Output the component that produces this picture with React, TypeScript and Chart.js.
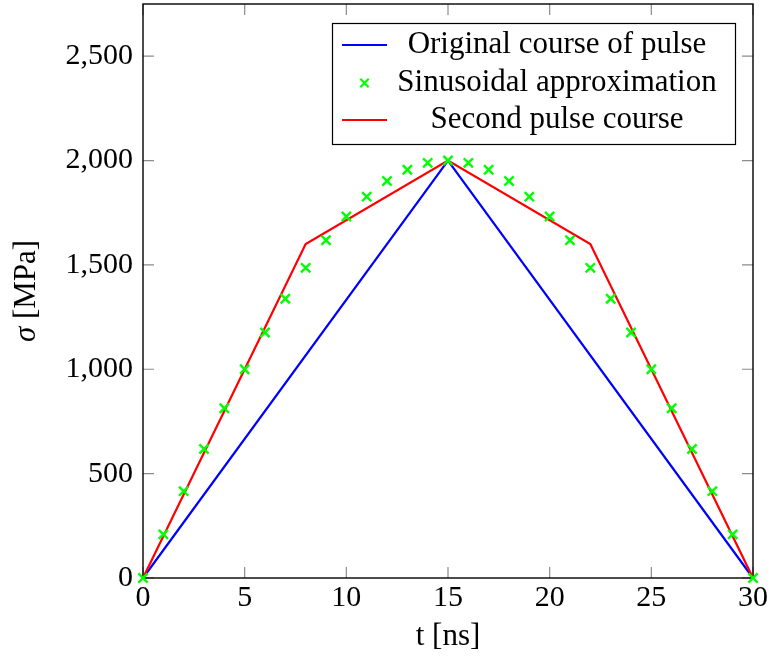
import { useEffect, useRef } from "react";
import { Chart, registerables } from "chart.js";

Chart.register(...registerables);

// Triangular pulse: linear rise to the peak and back down
const originalTime = [0, 15, 30];
const originalStress = [0, 2000, 0];

// Sampled sine-shaped pulse, one sample per nanosecond
const sineTime = [
  0, 1, 2, 3, 4, 5, 6, 7, 8, 9, 10, 11, 12, 13, 14, 15, 16, 17, 18, 19, 20,
  21, 22, 23, 24, 25, 26, 27, 28, 29, 30,
];
const sineStress = [
  0, 209, 416, 618, 813, 1000, 1176, 1338, 1486, 1618, 1732, 1827, 1902, 1956,
  1989, 2000, 1989, 1956, 1902, 1827, 1732, 1618, 1486, 1338, 1176, 1000, 813,
  618, 416, 209, 0,
];

// Piecewise-linear second pulse with knees at 8 ns and 22 ns
const secondTime = [0, 8, 15, 22, 30];
const secondStress = [0, 1600, 2000, 1600, 0];

const xTicks = [0, 5, 10, 15, 20, 25, 30];
const yTicks = [0, 500, 1000, 1500, 2000, 2500];

const seriesLabels = [
  "Original course of pulse",
  "Sinusoidal approximation",
  "Second pulse course",
];
const seriesColors = ["#0000ff", "#00ff00", "#ff0000"];

const xTitle = "t [ns]";
const yTitleSymbol = "σ";
const yTitleUnit = " [MPa]";

const SERIF = "'Liberation Serif', 'Times New Roman', serif";

const toPoints = (xs: number[], ys: number[]) =>
  xs.map((x, i) => ({ x, y: ys[i] }));

const decorPlugin = {
  id: "decor",
  beforeDatasetsDraw(chart: any) {
    const { ctx, chartArea, scales } = chart;
    const { left, right, top, bottom } = chartArea;
    const xs = scales.x;
    const ys = scales.y;
    const tickLen = 11;
    ctx.save();
    ctx.strokeStyle = "#8c8c8c";
    ctx.lineWidth = 1.2;
    ctx.beginPath();
    xs.ticks.forEach((t: any) => {
      const px = xs.getPixelForValue(t.value);
      ctx.moveTo(px, bottom);
      ctx.lineTo(px, bottom - tickLen);
      ctx.moveTo(px, top);
      ctx.lineTo(px, top + tickLen);
    });
    ys.ticks.forEach((t: any) => {
      const py = ys.getPixelForValue(t.value);
      ctx.moveTo(left, py);
      ctx.lineTo(left + tickLen, py);
      ctx.moveTo(right, py);
      ctx.lineTo(right - tickLen, py);
    });
    ctx.stroke();
    ctx.strokeStyle = "#000";
    ctx.lineWidth = 1.4;
    ctx.strokeRect(left, top, right - left, bottom - top);
    ctx.restore();
  },
  afterDraw(chart: any) {
    const { ctx, chartArea } = chart;
    const { left, right, top, bottom } = chartArea;
    ctx.save();

    // Axis titles
    ctx.fillStyle = "#000";
    ctx.textBaseline = "middle";
    ctx.textAlign = "center";
    ctx.font = `31px ${SERIF}`;
    ctx.fillText(xTitle, (left + right) / 2, 637);

    ctx.translate(27, (top + bottom) / 2);
    ctx.rotate(-Math.PI / 2);
    ctx.font = `italic 31px ${SERIF}`;
    const symW = ctx.measureText(yTitleSymbol).width;
    ctx.font = `31px ${SERIF}`;
    const unitW = ctx.measureText(yTitleUnit).width;
    const startX = -(symW + unitW) / 2;
    ctx.textAlign = "left";
    ctx.font = `italic 31px ${SERIF}`;
    ctx.fillText(yTitleSymbol, startX, 0);
    ctx.font = `31px ${SERIF}`;
    ctx.fillText(yTitleUnit, startX + symW, 0);
    ctx.setTransform(1, 0, 0, 1, 0, 0);

    // Legend box
    const bx = 332.5;
    const by = 23.5;
    const bw = 403;
    const bh = 121;
    ctx.fillStyle = "#fff";
    ctx.fillRect(bx, by, bw, bh);
    ctx.strokeStyle = "#000";
    ctx.lineWidth = 1.2;
    ctx.strokeRect(bx, by, bw, bh);

    const rowY = [45, 83, 120];
    const textCenter = 557;
    seriesLabels.forEach((label, i) => {
      const y = rowY[i];
      const color = seriesColors[i];
      ctx.strokeStyle = color;
      if (i === 1) {
        const r = 4.2;
        const cx = 364.5;
        ctx.lineWidth = 2.2;
        ctx.beginPath();
        ctx.moveTo(cx - r, y - r);
        ctx.lineTo(cx + r, y + r);
        ctx.moveTo(cx - r, y + r);
        ctx.lineTo(cx + r, y - r);
        ctx.stroke();
      } else {
        ctx.lineWidth = 2;
        ctx.beginPath();
        ctx.moveTo(342, y);
        ctx.lineTo(387, y);
        ctx.stroke();
      }
      ctx.fillStyle = "#000";
      ctx.textAlign = "center";
      ctx.textBaseline = "middle";
      ctx.font = `31px ${SERIF}`;
      ctx.fillText(label, textCenter, y);
    });
    ctx.restore();
  },
};

export default function App() {
  const canvasRef = useRef<HTMLCanvasElement | null>(null);

  useEffect(() => {
    const canvas = canvasRef.current;
    if (!canvas) return;
    const tickFont = { family: SERIF, size: 30 };
    const chart = new Chart(canvas, {
      type: "scatter",
      data: {
        datasets: [
          {
            label: seriesLabels[1],
            data: toPoints(sineTime, sineStress),
            showLine: false,
            pointStyle: "crossRot",
            pointRadius: 6.5,
            pointHoverRadius: 6.5,
            pointBorderWidth: 2.4,
            borderColor: seriesColors[1],
            backgroundColor: seriesColors[1],
            clip: false,
            order: 0,
          },
          {
            label: seriesLabels[2],
            data: toPoints(secondTime, secondStress),
            showLine: true,
            pointRadius: 0,
            borderWidth: 2.2,
            borderColor: seriesColors[2],
            backgroundColor: seriesColors[2],
            clip: false,
            order: 1,
          },
          {
            label: seriesLabels[0],
            data: toPoints(originalTime, originalStress),
            showLine: true,
            pointRadius: 0,
            borderWidth: 2.2,
            borderColor: seriesColors[0],
            backgroundColor: seriesColors[0],
            clip: false,
            order: 2,
          },
        ],
      },
      options: {
        responsive: false,
        animation: false,
        devicePixelRatio: 1,
        layout: {
          autoPadding: false,
          padding: { left: 0, right: 18, top: 4, bottom: 0 },
        },
        plugins: {
          legend: { display: false },
          tooltip: { enabled: false },
        },
        scales: {
          x: {
            type: "linear",
            min: 0,
            max: 30,
            grid: { display: false, drawTicks: false },
            border: { display: false },
            afterBuildTicks: (scale: any) => {
              scale.ticks = xTicks.map((v) => ({ value: v }));
            },
            afterFit: (scale: any) => {
              scale.height = 84;
              scale.paddingLeft = 0;
              scale.paddingRight = 0;
            },
            ticks: {
              font: tickFont,
              color: "#000",
              padding: 2,
              maxRotation: 0,
              autoSkip: false,
              callback: (v: any) => String(v),
            },
          },
          y: {
            type: "linear",
            min: 0,
            max: 2750,
            grid: { display: false, drawTicks: false },
            border: { display: false },
            afterBuildTicks: (scale: any) => {
              scale.ticks = yTicks.map((v) => ({ value: v }));
            },
            afterFit: (scale: any) => {
              scale.width = 143;
              scale.paddingTop = 0;
              scale.paddingBottom = 0;
            },
            ticks: {
              font: tickFont,
              color: "#000",
              padding: 10,
              autoSkip: false,
              callback: (v: any) => Number(v).toLocaleString("en-US"),
            },
          },
        },
      },
      plugins: [decorPlugin],
    });
    return () => chart.destroy();
  }, []);

  return (
    <div
      style={{
        position: "fixed",
        left: 0,
        top: 0,
        width: 771,
        height: 662,
        background: "#fff",
      }}
    >
      <canvas
        ref={canvasRef}
        width={771}
        height={662}
        style={{ display: "block", width: 771, height: 662 }}
      />
    </div>
  );
}
